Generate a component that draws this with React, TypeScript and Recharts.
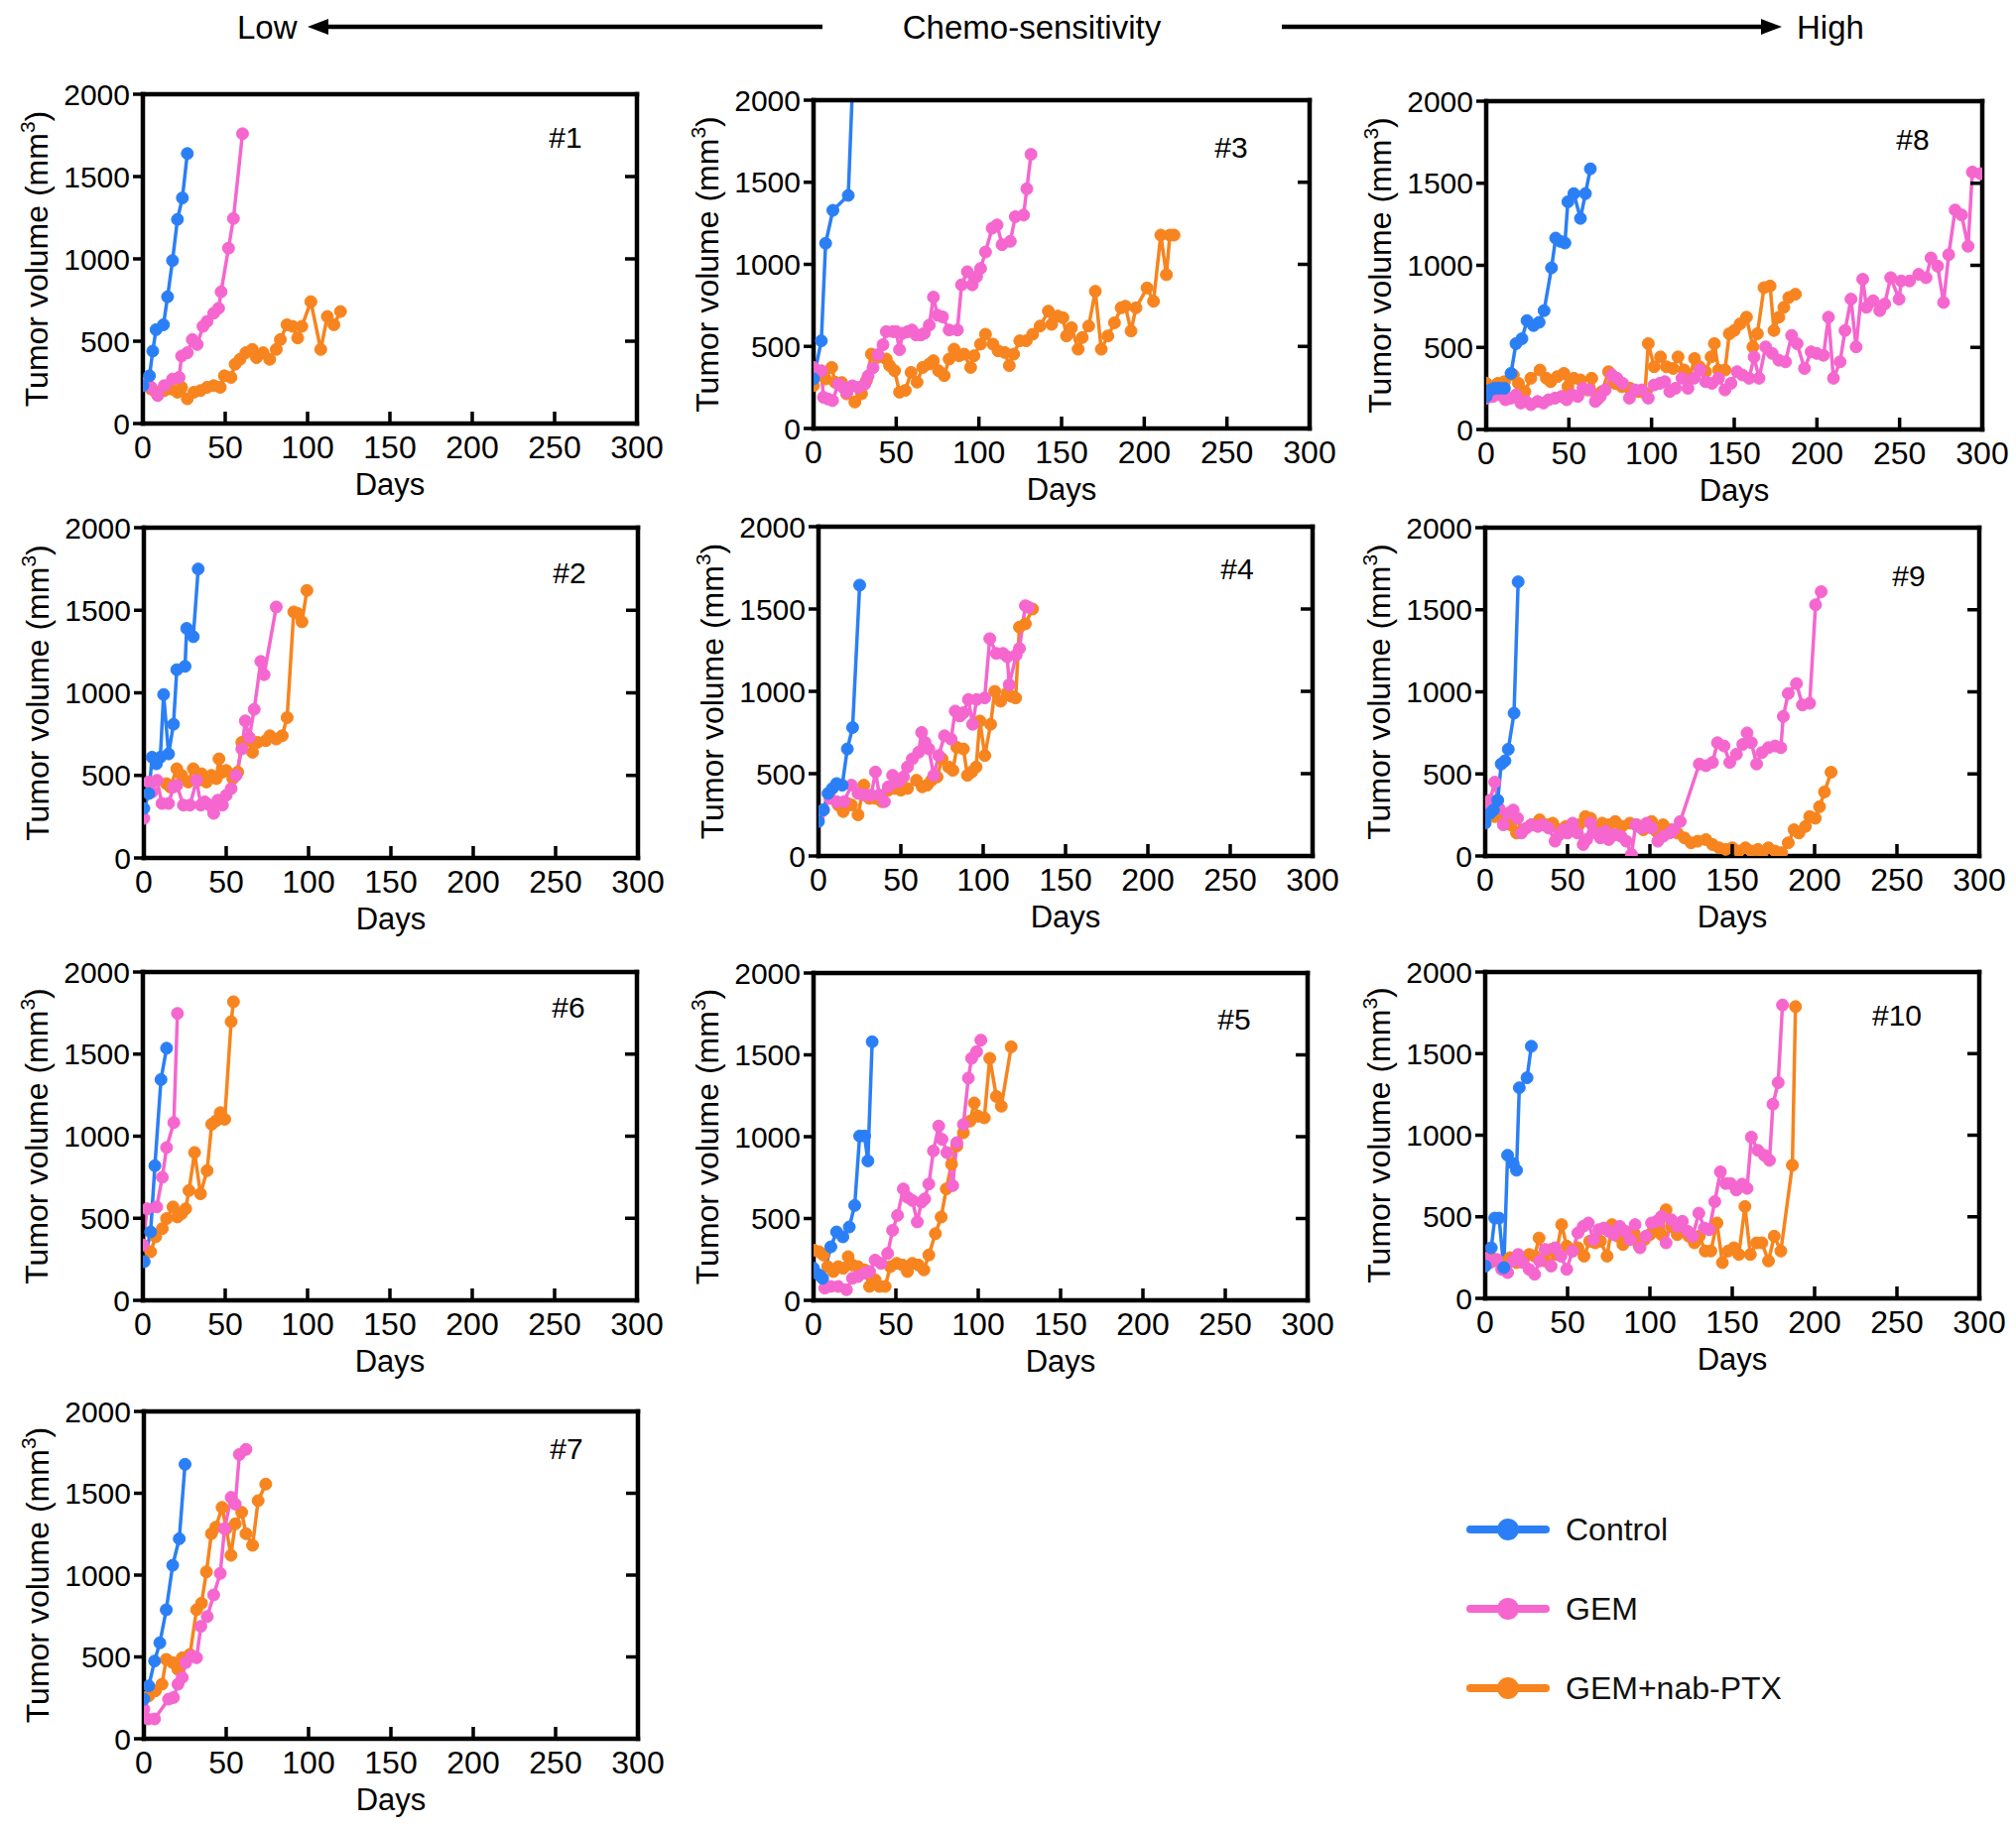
import React from "react";
import { LineChart, Line, XAxis, YAxis, Label } from "recharts";

type Pt = [number, number];

const CONTROL_COLOR = "#2b7ff6";
const GEM_COLOR = "#f566cf";
const NAB_COLOR = "#f7841e";
const FONT = '"Liberation Sans", Arial, Helvetica, sans-serif';

const X_TICKS = [0, 50, 100, 150, 200, 250, 300];
const Y_TICKS = [0, 500, 1000, 1500, 2000];
const Y_INNER_TICKS = [500, 1000, 1500];

// [day, tumor volume mm3]
const P1_CONTROL: Pt[] = [[0,230],[4,290],[6,440],[8,570],[12.5,600],[15,770],[18,990],[21,1240],[24,1370],[27,1640]];
const P1_GEM: Pt[] = [[0,240],[2.6,250],[5,220],[9,170],[13,230],[18,270],[22,280],[23.5,410],[27,430],[30,510],[33,480],[36.5,590],[39,620],[43,670],[46,700],[47.5,800],[52,1065],[55,1245],[60.5,1760]];
const P1_NAB: Pt[] = [[5,210],[8,190],[13,200],[17,210],[21,190],[23.5,220],[27,150],[31,190],[35,200],[39,220],[43,230],[47,220],[49.5,290],[53.5,280],[56,360],[59,390],[62.5,430],[66.5,450],[69,400],[73,430],[77,390],[81,450],[83.5,510],[87.5,600],[91,590],[94,520],[96.5,590],[102,740],[108,450],[112,650],[116,600],[120,680]];

const P3_CONTROL: Pt[] = [[0,302],[4.7,534],[7.3,1128],[11.7,1329],[21,1420],[24,2200]];
const P3_GEM: Pt[] = [[0,372],[4.7,352],[6,190],[8.6,180],[11.5,170],[15,270],[18,250],[20,220],[23.5,260],[27,250],[31,270],[33,320],[36,370],[39,450],[42,510],[44,590],[48,590],[50,590],[52,480],[54,580],[57,590],[59.5,600],[62,570],[65,570],[67,580],[70,630],[72.5,800],[75,690],[78,680],[82,600],[87,600],[89.5,875],[93,955],[96,875],[98.6,925],[101,975],[104,1075],[108,1220],[111,1240],[114,1120],[119,1140],[122,1290],[127,1300],[129,1460],[131.5,1670]];
const P3_NAB: Pt[] = [[0,262],[3.4,342],[7.3,302],[11,372],[13,282],[17,280],[20,211],[25,161],[29,211],[32,292],[35,453],[38.6,433],[44,423],[46,383],[49,352],[52,221],[55.5,232],[59,342],[62.6,282],[66,372],[70,393],[72.5,413],[75.6,352],[79,322],[82,423],[85,483],[88,443],[91,453],[95,372],[97,443],[101,514],[104,574],[108.5,514],[111.6,473],[115.6,463],[118.4,383],[121,453],[124.7,534],[128.6,534],[132.5,574],[137,624],[142,715],[144,634],[147.7,685],[150.8,675],[153,564],[156,614],[160,483],[162.5,554],[166.4,624],[170.4,836],[174,483],[178,564],[182,644],[186,735],[188.6,745],[192,594],[195,735],[201.7,856],[205.6,775],[210,1178],[213.4,937],[215.5,1178],[218,1178]];

const P8_CONTROL: Pt[] = [[0,201],[2.6,241],[5,251],[7.8,251],[11,251],[15,342],[18,523],[21.6,553],[24.7,663],[28.6,633],[32,653],[35,724],[39.5,985],[42,1166],[44.8,1146],[47.6,1136],[49.4,1387],[53,1437],[57,1286],[60,1437],[63,1588]];
const P8_GEM: Pt[] = [[0,191],[4,201],[8,211],[11.7,181],[15,191],[18,211],[21,161],[24,171],[27,151],[31,171],[34.6,161],[37.7,181],[41.6,191],[45.5,201],[48.7,181],[52,211],[55.4,201],[58.5,251],[62.5,241],[66,171],[69,201],[72,241],[76,332],[79,312],[82.5,281],[86.6,191],[90,241],[94,241],[98,191],[101.5,271],[105,281],[108,291],[111,231],[114.5,251],[118.4,312],[122,251],[125.7,312],[129.3,362],[132.7,291],[136.6,281],[140.5,312],[144.4,241],[148,281],[151.7,352],[155,332],[159,312],[162,442],[165,312],[169,503],[173,463],[177,422],[181,412],[184.7,573],[188,523],[192.5,372],[196.5,473],[200,463],[204,452],[207,684],[210,312],[214,412],[217,603],[220.6,794],[223.7,503],[227.7,915],[230,744],[234,784],[238,724],[241,764],[244.6,925],[249.7,794],[251,905],[256,905],[261.5,945],[266,925],[269,1045],[273,995],[276.6,774],[279.7,1065],[283.6,1337],[287.5,1307],[291.4,1116],[294,1568],[299,1558]];
const P8_NAB: Pt[] = [[0,281],[7,281],[11,291],[16.4,332],[19.5,281],[23.4,231],[27,312],[32.5,362],[36.4,312],[39,291],[43,322],[47,342],[49.4,261],[53,312],[57,302],[61,241],[63.8,312],[67,181],[70,231],[74,352],[78,281],[82,261],[87,251],[92,231],[96,221],[98,523],[101.6,382],[105.4,442],[109,382],[113,372],[116,442],[119.7,362],[123,312],[126,432],[129,382],[132.7,352],[136,442],[138,523],[140.5,362],[144.4,362],[147,583],[150,603],[153.5,643],[157.4,684],[161.3,503],[164,583],[168,864],[171.7,874],[174,603],[177,684],[180,744],[183,804],[187,824]];

const P2_CONTROL: Pt[] = [[0,300],[3,390],[5,610],[7.6,570],[10,610],[12,990],[15,630],[18,810],[20,1140],[25,1160],[26,1390],[30,1340],[33,1750]];
const P2_GEM: Pt[] = [[0,240],[3,460],[5,400],[8,470],[11,330],[15,330],[18,430],[20,440],[24,320],[28,320],[32,470],[34.6,320],[37,340],[40,320],[42.4,270],[45,350],[47.7,320],[50,380],[53,420],[56,500],[59.5,660],[61.6,830],[64,730],[67,900],[71,1190],[73,1110],[80.4,1520]];
const P2_NAB: Pt[] = [[13.6,450],[16,430],[20,540],[23,500],[27,460],[30,540],[33,470],[35,510],[38,460],[41,500],[44,480],[45.6,600],[47.7,520],[50,530],[54,480],[57,520],[59.5,700],[63.4,710],[66,640],[69,700],[74,710],[76.5,740],[80.4,720],[84,740],[87,850],[91,1490],[93.5,1480],[96,1430],[99,1620]];

const P4_CONTROL: Pt[] = [[0,210],[3,280],[5.8,380],[8.4,410],[11,440],[14.4,430],[17.5,650],[20.7,780],[25,1645]];
const P4_GEM: Pt[] = [[0,240],[3,280],[7,350],[11,330],[15.5,330],[20,430],[24,380],[28,370],[32,370],[34.6,510],[37,370],[40,330],[42.4,420],[45,490],[48.5,450],[51.6,480],[54,540],[57,590],[60.8,630],[62.6,750],[64.7,690],[67,650],[70,490],[73,610],[76.5,730],[80.5,710],[83,880],[85.8,850],[88,870],[91,950],[93.6,800],[96,950],[100.9,960],[104,1320],[108,1230],[112,1230],[114.6,1210],[115.8,1040],[120,1220],[122,1260],[125.6,1520],[127.6,1510]];
const P4_NAB: Pt[] = [[12,310],[15,270],[17.5,320],[20,310],[24,250],[27.5,430],[31,350],[34.6,350],[38.5,330],[42.4,400],[46.4,410],[50,400],[54,410],[59.5,460],[63,420],[66,430],[68.6,460],[72,480],[75,590],[79,540],[81.6,520],[84,660],[88,650],[90.4,490],[93,510],[95.7,540],[98,820],[101,610],[104.5,800],[107,1000],[110.6,940],[114.6,990],[117,970],[119.7,960],[122,1390],[125.6,1410],[130,1500]];

const P9_CONTROL: Pt[] = [[0,200],[3,260],[5,280],[7.6,340],[9.7,560],[12,580],[14,650],[17.5,870],[20,1670]];
const P9_GEM: Pt[] = [[0,280],[3,340],[5.8,450],[8.4,290],[11,190],[13.6,260],[17,280],[19.6,230],[22,140],[25,170],[28,190],[32,180],[35,190],[38.5,170],[42.4,90],[45,130],[47.7,160],[50,140],[53,200],[56,140],[59.5,70],[61.6,100],[64,200],[67,140],[70,110],[73,150],[75,100],[79,130],[82.5,120],[85.7,90],[88.8,10],[91.4,190],[94.8,170],[98,200],[101,170],[104.8,90],[108,120],[112,140],[114.5,160],[118.4,210],[130,560],[134,550],[138,570],[141,690],[145,670],[148.5,570],[152.5,620],[156.4,680],[159,750],[161.6,690],[164.8,560],[168,630],[172,660],[176,670],[179.5,660],[181,850],[184,990],[189,1050],[192.6,920],[197,930],[200.6,1530],[204,1610]];
const P9_NAB: Pt[] = [[2,330],[5.8,240],[11,220],[15.5,190],[19,140],[22.8,160],[28,190],[33,220],[38,190],[41,200],[45,160],[49,180],[53,160],[57,190],[60.8,240],[64,230],[67.8,160],[71,200],[75,190],[79,210],[83,180],[87.8,200],[92,190],[96,160],[101,210],[104,150],[108,190],[112.4,160],[116.6,140],[121,110],[125,80],[129,90],[134,100],[138,70],[142,50],[146,40],[150,50],[154,30],[158,50],[161.6,30],[165.6,40],[168,10],[172,50],[176,30],[180,20],[184,80],[187.5,160],[190.5,140],[194.4,180],[197,240],[200.4,230],[203,300],[206,390],[210,510]];

const P6_CONTROL: Pt[] = [[0.8,236],[4.7,417],[7.3,820],[11,1345],[14.4,1536]];
const P6_GEM: Pt[] = [[0,337],[2.6,558],[8.4,569],[11.8,750],[14.4,931],[18.8,1083],[21,1748]];
const P6_NAB: Pt[] = [[4.7,296],[7.8,387],[11.8,437],[14.4,498],[18.3,569],[20.9,508],[23.5,528],[26,558],[28,669],[31.4,901],[35,649],[39,790],[41.8,1073],[44.4,1093],[47,1143],[49.7,1103],[53.6,1698],[55,1819]];

const P5_CONTROL: Pt[] = [[0,196],[3.4,155],[5.5,135],[10.5,327],[14,418],[17.8,388],[21.7,448],[25,580],[28,1004],[31,1004],[33,852],[35.6,1580]];
const P5_GEM: Pt[] = [[0,180],[6.8,75],[10.5,85],[15,85],[20,65],[23.6,135],[27,145],[31,166],[34,176],[37.4,246],[41,226],[45,287],[48,428],[51,519],[54.5,681],[57,630],[60,610],[63,479],[65.5,600],[67.5,620],[70,711],[72.8,913],[76,1065],[78,984],[81,903],[84.5,701],[87,964],[91,1075],[94,1358],[96,1479],[99,1519],[101.6,1590]];
const P5_NAB: Pt[] = [[0,307],[3.4,297],[6,277],[8.6,206],[12,176],[15,206],[18,196],[21,267],[23.6,216],[27,206],[31,186],[34,85],[37.4,125],[40,85],[43.5,85],[46.6,206],[50.5,226],[54,216],[57,176],[60,226],[63.6,216],[67,186],[70,277],[74,408],[77.5,509],[80.6,681],[83.8,832],[87,943],[91,1024],[95,1095],[97.6,1206],[100,1125],[103.7,1115],[107,1479],[111,1246],[114,1186],[120,1549]];

const P10_CONTROL: Pt[] = [[0,198],[3.7,310],[5.8,492],[8.4,492],[11.3,188],[13.6,877],[17,826],[19,785],[20.7,1291],[25.4,1352],[28,1545]];
const P10_GEM: Pt[] = [[0,249],[3,219],[7,239],[10,178],[13.6,158],[17,229],[20,269],[23,219],[26.7,178],[30,148],[33,229],[36.4,300],[40,198],[42.4,310],[46,259],[49.5,178],[53,290],[56.3,401],[59.5,441],[62.6,462],[65.8,360],[69,421],[72,431],[75,411],[78,391],[81.7,441],[85,411],[88,360],[91,452],[94,310],[97.5,381],[101,462],[104,472],[107,502],[109.8,340],[113,482],[116.6,441],[119.7,472],[123,411],[126,381],[129.7,522],[133,431],[136,421],[139.4,593],[142.8,775],[146,704],[149,704],[152.5,664],[156,700],[159,674],[161.6,988],[165.6,907],[169.5,877],[172.6,846],[174.7,1190],[177.9,1322],[180.5,1798]];
const P10_NAB: Pt[] = [[3.7,249],[7,229],[11,219],[15,249],[19,219],[23,239],[26.7,269],[30,259],[32.7,370],[36.4,229],[40,300],[43,269],[46.4,452],[49.5,320],[53,290],[56.3,310],[60,259],[63.4,350],[66.8,340],[70,350],[74,259],[77,452],[80.5,381],[83.6,330],[87,360],[90.4,401],[93.5,320],[96.7,360],[100,391],[103.5,431],[107,391],[109.8,543],[113,441],[116.6,391],[119.7,431],[123.6,381],[127,340],[130,381],[133.6,290],[137,290],[140.7,462],[144,219],[147.5,290],[151,310],[154,269],[157.7,563],[161,269],[164.8,340],[168,340],[172,229],[175.5,381],[179.5,290],[186.5,816],[188.4,1788]];

const P7_CONTROL: Pt[] = [[0,242],[3,323],[6.5,475],[9.7,586],[13.6,788],[17.5,1060],[21.5,1222],[25,1677]];
const P7_GEM: Pt[] = [[0,182],[2.4,121],[6.5,121],[15,242],[18,252],[20.7,333],[23.3,374],[25.4,465],[29,505],[32,495],[34.6,687],[38.5,747],[42.4,879],[46.4,1010],[49,1283],[53,1475],[55.5,1434],[58,1737],[62,1768]];
const P7_NAB: Pt[] = [[3,263],[7,293],[11,333],[13.6,485],[17.5,465],[20.7,424],[23.3,495],[28,515],[32,788],[35,828],[38,1020],[41,1253],[43.7,1293],[47.5,1414],[50,1283],[52.9,1121],[55.5,1313],[59.4,1384],[62,1253],[66,1182],[69.4,1455],[74,1556]];

const PANEL_NAMES = ["#1", "#3", "#8", "#2", "#4", "#9", "#6", "#5", "#10", "#7"];
const PANEL_SERIES: Record<string, Pt[][]> = {
  "#1": [P1_CONTROL, P1_GEM, P1_NAB],
  "#3": [P3_CONTROL, P3_GEM, P3_NAB],
  "#8": [P8_CONTROL, P8_GEM, P8_NAB],
  "#2": [P2_CONTROL, P2_GEM, P2_NAB],
  "#4": [P4_CONTROL, P4_GEM, P4_NAB],
  "#9": [P9_CONTROL, P9_GEM, P9_NAB],
  "#6": [P6_CONTROL, P6_GEM, P6_NAB],
  "#5": [P5_CONTROL, P5_GEM, P5_NAB],
  "#10": [P10_CONTROL, P10_GEM, P10_NAB],
  "#7": [P7_CONTROL, P7_GEM, P7_NAB],
};

// plot box [left, top, right, bottom] and panel tag offset [fromRight, fromTop]
const PANEL_BOX: Record<string, number[]> = {
  "#1": [144, 95, 642, 427, 72, 43],
  "#3": [820, 101, 1320, 432, 79, 47],
  "#8": [1498, 102, 1998, 433, 70, 38],
  "#2": [145, 532, 643, 865, 69, 45],
  "#4": [825, 531, 1323, 863, 76, 42],
  "#9": [1497, 532, 1995, 863, 71, 48],
  "#6": [144, 980, 642, 1311, 69, 35],
  "#5": [820, 981, 1318, 1311, 74, 46],
  "#10": [1497, 980, 1995, 1309, 83, 43],
  "#7": [145, 1423, 643, 1753, 72, 37],
};

const ML = 150;
const MT = 20;
const MR = 30;
const MB = 100;
const X_TICK_FONT = 32;
const Y_TICK_FONT = 30;
const AXIS_LINE = { stroke: "#000", strokeWidth: 4.5, strokeLinecap: "square" as const };

const toRows = (pts: Pt[]) => pts.map(([day, vol]) => ({ day, vol }));

const renderXTick = (p: any) => (
  <g>
    <line x1={p.x} x2={p.x} y1={p.y} y2={p.y - 12} stroke="#000" strokeWidth={3.5} />
    <text x={p.x} y={p.y + 35} textAnchor="middle" fontSize={X_TICK_FONT} fill="#000">
      {p.payload.value}
    </text>
  </g>
);

const renderRightTick = (p: any) => (
  <line x1={p.x} x2={p.x - 12} y1={p.y} y2={p.y} stroke="#000" strokeWidth={3.5} />
);

const renderYLabel = (p: any) => {
  const vb = p.viewBox;
  const cx = vb.x + vb.width - 107;
  const cy = vb.y + vb.height / 2;
  return (
    <text
      x={cx}
      y={cy}
      dy={11}
      textAnchor="middle"
      fontSize={32}
      fill="#000"
      transform={`rotate(-90, ${cx}, ${cy})`}
    >
      Tumor volume (mm
      <tspan dy={-13} fontSize={21}>3</tspan>
      <tspan dy={13}>)</tspan>
    </text>
  );
};

const renderDaysLabel = (p: any) => {
  const vb = p.viewBox;
  return (
    <text x={vb.x + vb.width / 2} y={vb.y + 72} textAnchor="middle" fontSize={31} fill="#000">
      Days
    </text>
  );
};

function Panel({ name }: { name: string }) {
  const [L, T, R, B, tagDx, tagDy] = PANEL_BOX[name];
  const [control, gem, nab] = PANEL_SERIES[name];
  const w = ML + (R - L) + MR;
  const h = MT + (B - T) + MB;
  const renderTag = (p: any) => {
    const vb = p.viewBox;
    return (
      <text x={vb.x + vb.width - tagDx} y={vb.y + vb.height + tagDy + 11} textAnchor="middle" fontSize={30} fill="#000">
        {name}
      </text>
    );
  };
  const dot = (c: string) => ({ r: 6, fill: c, stroke: c, strokeWidth: 1 });
  return (
    <div style={{ position: "absolute", left: L - ML, top: T - MT, width: w, height: h }}>
      <LineChart width={w} height={h} margin={{ top: MT - 1, right: MR - 1, left: 0, bottom: 0 }}>
        <XAxis
          type="number"
          dataKey="day"
          domain={[0, 300]}
          ticks={X_TICKS}
          interval={0}
          allowDataOverflow
          height={MB}
          tickSize={0}
          tickMargin={0}
          tickLine={false}
          tick={renderXTick}
          axisLine={AXIS_LINE}
        >
          <Label content={renderDaysLabel} />
        </XAxis>
        <XAxis
          xAxisId="top"
          orientation="top"
          type="number"
          dataKey="day"
          domain={[0, 300]}
          ticks={X_TICKS}
          allowDataOverflow
          height={1}
          tick={false}
          tickLine={false}
          axisLine={AXIS_LINE}
        >
          <Label content={renderTag} />
        </XAxis>
        <YAxis
          type="number"
          domain={[0, 2000]}
          ticks={Y_TICKS}
          interval={0}
          allowDataOverflow
          width={ML}
          tickSize={10}
          tickMargin={3}
          tickLine={{ stroke: "#000", strokeWidth: 3.5 }}
          tick={{ fontSize: Y_TICK_FONT, fill: "#000" }}
          axisLine={AXIS_LINE}
        >
          <Label content={renderYLabel} />
        </YAxis>
        <YAxis
          yAxisId="right"
          orientation="right"
          type="number"
          domain={[0, 2000]}
          ticks={Y_INNER_TICKS}
          interval={0}
          allowDataOverflow
          width={1}
          tickSize={0}
          tickMargin={0}
          tickLine={false}
          tick={renderRightTick}
          axisLine={AXIS_LINE}
        />
        <Line data={toRows(nab)} dataKey="vol" type="linear" stroke={NAB_COLOR} strokeWidth={3.5} dot={dot(NAB_COLOR)} isAnimationActive={false} />
        <Line data={toRows(gem)} dataKey="vol" type="linear" stroke={GEM_COLOR} strokeWidth={3.5} dot={dot(GEM_COLOR)} isAnimationActive={false} />
        {/* control is bound to the frame axes (same domains) so they get drawn */}
        <Line data={toRows(control)} xAxisId="top" yAxisId="right" dataKey="vol" type="linear" stroke={CONTROL_COLOR} strokeWidth={3.5} dot={dot(CONTROL_COLOR)} isAnimationActive={false} />
      </LineChart>
    </div>
  );
}

function Header() {
  return (
    <svg width={2032} height={60} style={{ position: "absolute", left: 0, top: 0 }}>
      <text x={239} y={39} fontSize={33} fill="#000">Low</text>
      <line x1={829} x2={322} y1={27} y2={27} stroke="#000" strokeWidth={4.5} />
      <polygon points="310,27 331,19 331,35" fill="#000" />
      <text x={1040} y={39} fontSize={33} fill="#000" textAnchor="middle">Chemo-sensitivity</text>
      <line x1={1292} x2={1784} y1={27} y2={27} stroke="#000" strokeWidth={4.5} />
      <polygon points="1796,27 1775,19 1775,35" fill="#000" />
      <text x={1811} y={39} fontSize={33} fill="#000">High</text>
    </svg>
  );
}

const LEGEND_ITEMS = [
  { label: "Control", color: CONTROL_COLOR },
  { label: "GEM", color: GEM_COLOR },
  { label: "GEM+nab-PTX", color: NAB_COLOR },
];

function Legend() {
  return (
    <svg width={420} height={250} style={{ position: "absolute", left: 1440, top: 1490 }}>
      {LEGEND_ITEMS.map((it, i) => {
        const y = 52 + i * 80;
        return (
          <g key={it.label}>
            <line x1={42} x2={118} y1={y} y2={y} stroke={it.color} strokeWidth={8} strokeLinecap="round" />
            <circle cx={80} cy={y} r={11} fill={it.color} />
            <text x={138} y={y + 11} fontSize={32} fill="#111">{it.label}</text>
          </g>
        );
      })}
    </svg>
  );
}

export default function App() {
  return (
    <div
      style={{
        position: "absolute",
        left: 0,
        top: 0,
        width: 2032,
        height: 1846,
        background: "#fff",
        fontFamily: FONT,
      }}
    >
      <Header />
      {PANEL_NAMES.map((n) => (
        <Panel key={n} name={n} />
      ))}
      <Legend />
    </div>
  );
}
